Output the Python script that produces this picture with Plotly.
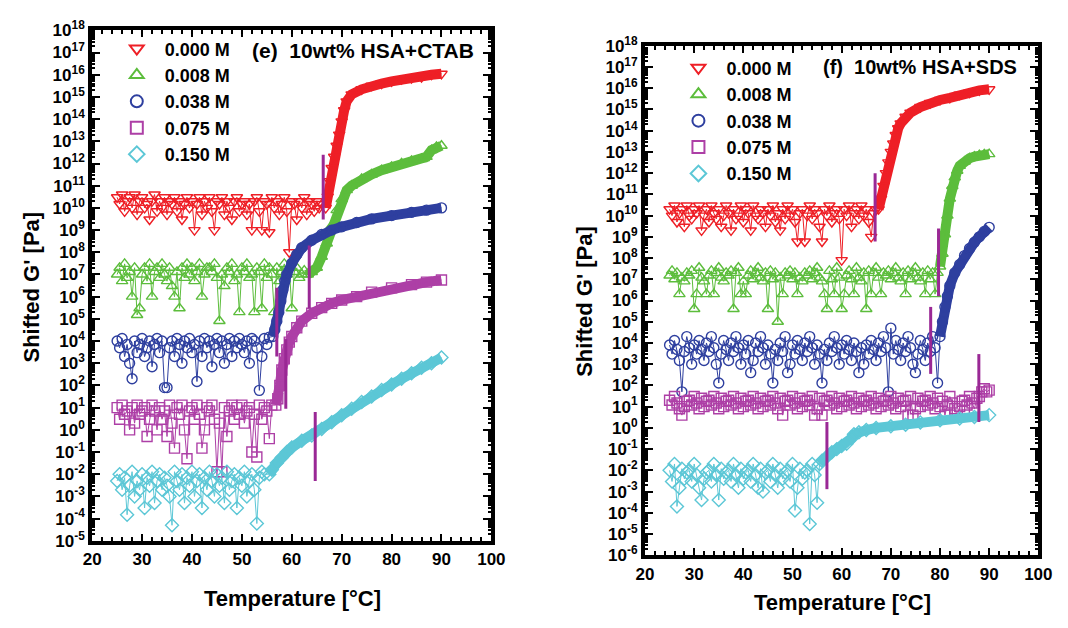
import plotly.graph_objects as go

# ---------------- data ----------------
series_names = ["0.000 M", "0.008 M", "0.038 M", "0.075 M", "0.150 M"]
colors = ["#ee1f26", "#5cbd3c", "#2e3f9f", "#ad3fa6", "#5cc7d6"]
symbols = ["triangle-down-open", "triangle-up-open", "circle-open", "square-open", "diamond-open"]
vline_color = "#9a2895"

# temperature readings of the noisy (pre-transition) part, shared by all series
temp_grid = [25.0, 25.5, 26.0, 26.5, 27.0, 27.5, 28.0, 28.5, 29.0, 29.5, 30.0, 30.5, 31.0, 31.5, 32.0, 32.5,
             33.0, 33.5, 34.0, 34.5, 35.0, 35.5, 36.0, 36.5, 37.0, 37.5, 38.0, 38.5, 39.0, 39.5, 40.0, 40.5,
             41.0, 41.5, 42.0, 42.5, 43.0, 43.5, 44.0, 44.5, 45.0, 45.5, 46.0, 46.5, 47.0, 47.5, 48.0, 48.5,
             49.0, 49.5, 50.0, 50.5, 51.0, 51.5, 52.0, 52.5, 53.0, 53.5, 54.0, 54.5, 55.0, 55.5, 56.0, 56.5,
             57.0, 57.5, 58.0, 58.5, 59.0, 59.5, 60.0, 60.5, 61.0, 61.5, 62.0, 62.5, 63.0, 63.5, 64.0, 64.5,
             65.0, 65.5, 66.0, 66.5, 67.0, 67.5, 68.0, 68.5, 69.0, 69.5, 70.0, 70.5, 71.0, 71.5, 72.0, 72.5,
             73.0, 73.5, 74.0, 74.5, 75.0, 75.5, 76.0, 76.5, 77.0, 77.5, 78.0, 78.5, 79.0, 79.5, 80.0, 80.5,
             81.0, 81.5, 82.0, 82.5, 83.0, 83.5, 84.0, 84.5, 85.0, 85.5, 86.0, 86.5, 87.0, 87.5, 88.0, 88.5,
             89.0, 89.5, 90.0]

# ----- panel (e): 10wt% HSA + CTAB -----
e_red_noise = [3e10, 1.5e10, 4e10, 7e9, 2e10, 3e10, 1e10, 4e10, 5e9, 2e10,
               3e10, 1e10, 1.5e10, 3e9, 2e10, 4e10, 7e9, 2e10, 1e10, 3e10,
               5e9, 2e10, 1.5e10, 3e10, 7e9, 2e10, 3e9, 1.5e10, 3e10, 1e10,
               2e10, 1e9, 1.5e10, 3e10, 5e9, 2e10, 1e10, 3e10, 7e9, 1e9,
               2e10, 1.5e10, 3e10, 5e9, 2e10, 1e10, 3e9, 2e10, 3e10, 7e9,
               1.5e10, 2e10, 5e9, 1.5e10, 1e9, 2e10, 3e10, 7e9, 1e9, 2e10,
               1.5e10, 8e8, 3e10, 1e10, 2e10, 5e9, 1.5e10, 3e10, 7e9, 1e8,
               2e10, 1.5e10, 3e9, 2e10, 1e10, 3e10, 5e9, 2e10, 1.5e10, 7e9,
               2e10, 1e10, 1.5e10]
e_red_rise_t = [66.8, 67.2, 67.6, 68.0, 68.5, 69.0, 69.5, 70.0, 70.5, 71.0, 72.0, 74.0, 76.0, 78.0, 80.0,
                82.0, 84.0, 86.0, 88.0, 90.0]
e_red_rise = [1e10, 3.2e10, 1.6e11, 6.3e11, 2e12, 6.3e12, 2e13, 7.9e13, 2.5e14, 6.3e14, 1.3e15, 2.2e15,
              3.2e15, 4e15, 5e15, 6.3e15, 7.1e15, 7.9e15, 1e16, 1.1e16]

e_green_noise = [1e7, 2e7, 5e6, 3e7, 7e6, 1.3e7, 1e6, 2e7, 1.5e5, 3e5,
                 1e7, 2e7, 5e6, 3e7, 1e6, 1.3e7, 2e7, 7e6, 3e7, 1e7,
                 5e6, 2e7, 3e6, 1e6, 1.3e7, 3e5, 2e7, 7e6, 3e7, 1e7,
                 2e7, 5e6, 1.3e7, 3e7, 1e6, 1e7, 2e7, 2e7, 1.3e7, 3e7,
                 7e6, 8e4, 1e7, 3e6, 2e7, 1.3e7, 3e7, 5e6, 1e7, 2e5,
                 2e7, 1.3e7, 3e7, 7e6, 1e7, 2e5, 2e7, 1.3e7, 3e5, 3e7,
                 7e6, 2e7, 1e7, 2e5, 2e7, 5e6, 1.3e7, 3e7, 1e7, 2e7,
                 3e5, 1.3e7, 2e7, 7e6, 1e7, 1.5e7]
e_green_rise_t = [63.2, 64.0, 65.0, 66.0, 67.0, 68.0, 69.0, 70.0, 71.0, 72.0, 74.0, 76.0, 78.0, 80.0, 82.0,
                  84.0, 86.0, 87.0, 88.0, 89.0, 90.0]
e_green_rise = [1e7, 1.3e7, 2e7, 6.3e7, 2.5e8, 1.6e9, 7.9e9, 2.5e10, 6.3e10, 1e11, 2e11, 3.2e11, 5e11, 7.1e11,
                1e12, 1.3e12, 1.6e12, 2e12, 4e12, 5.6e12, 6.3e12]

e_blue_noise = [1e4, 5e3, 1.3e4, 2e3, 7e3, 1e3, 2e2, 1e4, 3e3, 7e3,
                1.3e4, 2e3, 5e3, 1e4, 7e2, 7e3, 1.3e4, 3e3, 1e4, 8e1,
                8e1, 5e3, 1e4, 2e3, 1.3e4, 7e3, 1e3, 1e4, 5e3, 1.3e4,
                3e3, 7e3, 1.5e2, 1e4, 2e3, 1.3e4, 5e3, 1e4, 7e2, 7e3,
                1.3e4, 3e3, 1e4, 1e3, 7e3, 1.3e4, 2e3, 1e4, 5e3, 1.3e4,
                7e3, 3e3, 1e4, 1e3, 1.3e4, 1e4, 5e3, 6e1, 2e3, 1.3e4,
                7e3, 1.5e4]
e_blue_rise_t = [56.2, 56.6, 57.0, 57.4, 57.8, 58.2, 58.6, 59.0, 60.0, 61.0, 62.0, 64.0, 66.0, 68.0, 70.0,
                 73.0, 76.0, 80.0, 84.0, 87.0, 90.0]
e_blue_rise = [1.6e4, 3.2e4, 7.9e4, 2e5, 6.3e5, 2e6, 5e6, 1e7, 3.2e7, 7.9e7, 1.6e8, 3.5e8, 6.3e8, 1e9, 1.4e9,
               2.2e9, 3.2e9, 4.5e9, 6.3e9, 7.9e9, 1e10]

e_mag_noise = [1e1, 3e0, 1.3e1, 5e0, 7e0, 1e0, 1e1, 2e0, 1.3e1, 5e0,
               7e0, 1e1, 5e-1, 3e0, 1.3e1, 7e0, 1e0, 1e1, 3e0, 7e0,
               5e-1, 1.3e1, 2e0, 1.5e-1, 1e1, 5e0, 1.3e1, 1e0, 5e-2, 7e0,
               1e1, 3e0, 1.3e1, 5e0, 1.5e-1, 1e0, 1e1, 7e0, 1.3e1, 3e0,
               1.3e-2, 2e0, 1.3e-2, 1e1, 5e-1, 7e0, 1.3e1, 3e0, 1e1, 5e0,
               1.3e1, 2e0, 7e0, 1e1, 1e-1, 5e0, 6e-2, 1.3e1, 3e0, 1e1,
               7e0, 4e-1, 1.3e1]
e_mag_rise_t = [56.8, 57.2, 57.6, 58.0, 58.5, 59.0, 59.5, 60.0, 61.0, 62.0, 64.0, 66.0, 68.0, 70.0, 73.0,
                76.0, 80.0, 84.0, 87.0, 90.0]
e_mag_rise = [1.3e1, 2.5e1, 1e2, 5e2, 1.6e3, 4e3, 8.9e3, 1.6e4, 4e4, 7.9e4, 1.8e5, 3.2e5, 5e5, 7.1e5, 1e6,
              1.6e6, 2.5e6, 3.5e6, 4.5e6, 5.6e6]

e_cyan_noise = [5e-3, 1e-2, 2e-3, 7e-3, 1.5e-4, 3e-3, 1.3e-2, 1e-3, 5e-3, 2e-3,
                1e-2, 3e-4, 7e-3, 3e-3, 1.3e-2, 5e-4, 5e-3, 1e-2, 2e-3, 7e-3,
                3e-3, 1e-3, 5e-5, 1.3e-2, 5e-3, 2e-3, 1e-2, 5e-4, 7e-3, 3e-3,
                1.3e-2, 1e-3, 5e-3, 1e-2, 3e-4, 7e-3, 2e-3, 1.3e-2, 5e-3, 1e-3,
                1e-2, 3e-3, 7e-3, 5e-4, 1.3e-2, 2e-3, 5e-3, 1e-2, 3e-4, 7e-3,
                3e-3, 1.3e-2, 1e-3, 5e-3, 1e-2, 2e-3, 6e-5, 7e-3, 1.3e-2, 1e-2]
e_cyan_rise_t = [55.5, 56.0, 57.0, 58.0, 59.0, 60.0, 62.0, 64.0, 66.0, 68.0, 70.0, 72.0, 74.0, 76.0, 78.0,
                 80.0, 82.0, 84.0, 86.0, 88.0, 90.0]
e_cyan_rise = [1e-2, 1.6e-2, 3.2e-2, 5.6e-2, 1e-1, 1.6e-1, 3.2e-1, 5.6e-1, 1.1, 2.2, 4.5, 8.9, 1.8e1, 3.2e1,
               6.3e1, 1.1e2, 2e2, 3.5e2, 6.3e2, 1e3, 1.8e3]

e_vline_t = [66.3, 63.5, 57.0, 58.8, 64.7]
e_vline_lo = [3e9, 3e5, 2e3, 9.0, 5e-3]
e_vline_hi = [2.5e12, 2e8, 2.5e6, 1.2e4, 6.3]

# ----- panel (f): 10wt% HSA + SDS -----
f_red_noise = [2e10, 1e10, 3e10, 5e9, 1.3e10, 2e10, 3e9, 3e10, 1e10, 7e9,
               2e10, 1.3e10, 3e10, 2e9, 1e10, 2e10, 5e9, 3e10, 1.3e10, 7e9,
               2e10, 3e9, 1e10, 3e10, 1.3e10, 2e9, 2e10, 7e9, 1e10, 3e10,
               5e9, 2e10, 1.3e10, 2e9, 3e10, 1e10, 7e9, 2e10, 1.3e10, 3e9,
               2e10, 1e10, 3e10, 5e9, 1.3e10, 2e9, 2e10, 7e9, 3e10, 1e10,
               2e10, 5e9, 6e8, 1.3e10, 2e10, 6e8, 1e10, 3e10, 7e9, 2e10,
               1.3e10, 3e9, 6e8, 2e10, 1e10, 3e10, 5e9, 1.3e10, 2e10, 7e9,
               8e7, 2e10, 1e10, 3e10, 3e9, 1.3e10, 2e10, 7e9, 3e10, 1e10,
               2e10, 5e9, 1e9, 1.3e10, 2e10]
f_red_rise_t = [67.5, 68.0, 68.5, 69.0, 69.5, 70.0, 70.5, 71.0, 71.5, 72.0, 73.0, 74.0, 76.0, 78.0, 80.0,
                82.0, 84.0, 86.0, 88.0, 90.0]
f_red_rise = [2e10, 6.3e10, 2.5e11, 1e12, 3.2e12, 1e13, 2.5e13, 6.3e13, 1.3e14, 2.2e14, 4.5e14, 7.1e14, 1.3e15,
              2e15, 2.8e15, 3.5e15, 5e15, 6.3e15, 7.9e15, 8.9e15]

f_green_noise = [1.5e7, 2.5e7, 1e7, 2e7, 2e6, 1.2e7, 8e6, 2e7,
                 1.5e7, 2.5e7, 4e5, 2e6, 3.5e7, 1.2e7, 8e6, 2e6,
                 1.5e7, 2.5e7, 2e6, 2e7, 3.5e7, 1.2e7, 8e6, 2e7,
                 1.5e7, 2.5e7, 4e5, 2e7, 3.5e7, 2e6, 8e6, 2e6,
                 1.5e7, 2.5e7, 1e7, 2e7, 3.5e7, 1.2e7, 8e6, 2e7,
                 4e5, 2.5e7, 1e7, 2e7, 1e5, 1.2e7, 2e6, 2e7,
                 1.5e7, 2.5e7, 1e7, 2e7, 2e6, 1.2e7, 8e6, 2e7,
                 1.5e7, 2.5e7, 1e7, 2e7, 3.5e7, 1.2e7, 8e6, 2e6,
                 4e5, 2.5e7, 1e7, 2e6, 3.5e7, 1.2e7, 4e5, 2e6,
                 1.5e7, 2.5e7, 1e7, 2e6, 3.5e7, 1.2e7, 8e6, 2e7,
                 4e5, 2.5e7, 2e6, 2e7, 3.5e7, 1.2e7, 2e6, 2e7,
                 1.5e7, 2.5e7, 1e7, 2e7, 3.5e7, 1.2e7, 8e6, 2e7,
                 2e6, 2.5e7, 1e7, 2e7, 3.5e7, 1.2e7, 8e6, 2e7,
                 2e6, 2.5e7, 1e7, 2e7, 2e6, 2e7]
f_green_rise_t = [80.0, 80.5, 81.0, 81.5, 82.0, 82.5, 83.0, 83.5, 84.0, 85.0, 86.0, 87.0, 88.0, 89.0, 90.0]
f_green_rise = [4e7, 1.6e8, 1.3e9, 1e10, 6.3e10, 2.5e11, 6.3e11, 1.3e12, 2.2e12, 3.5e12, 5e12, 6e12, 7.1e12,
                7.6e12, 7.9e12]

f_blue_noise = [8e3, 3e3, 1.3e4, 5e3, 1.5e3, 5e1, 4e3, 2e4, 6e3, 1e3,
                8e3, 3e3, 1.3e4, 5e3, 1.5e3, 1e4, 4e3, 2e4, 6e3, 1e3,
                1.3e2, 3e3, 1.3e4, 5e3, 1.5e3, 1e4, 4e3, 2e4, 6e3, 1e3,
                8e3, 3e3, 1.3e4, 4e2, 1.5e3, 1e4, 4e3, 2e4, 6e3, 1e3,
                8e3, 3e3, 1.3e2, 5e3, 1.5e3, 1e4, 4e3, 2e4, 4e2, 1e3,
                8e3, 3e3, 1.3e4, 5e3, 1.5e3, 1e4, 4e3, 2e4, 6e3, 1e3,
                8e3, 3e3, 1.3e2, 5e3, 1.5e3, 1e4, 4e3, 2e4, 6e3, 1e3,
                8e3, 3e3, 1.3e4, 5e3, 1.5e3, 1e4, 4e3, 4e2, 6e3, 1e3,
                8e3, 3e3, 1.3e4, 5e3, 1.5e3, 1e4, 4e3, 2e4, 6e3, 5e1,
                5e4, 3e3, 1.3e4, 5e3, 1.5e3, 1e4, 4e3, 2e4, 6e3, 1e3,
                4e2, 3e3, 1.3e4, 5e3, 1.5e3, 1e4, 4e3, 2e4, 6e3, 1.3e2]
f_blue_rise_t = [80.0, 80.5, 81.0, 81.5, 82.0, 83.0, 84.0, 85.0, 86.0, 87.0, 88.0, 89.0, 90.0]
f_blue_rise = [2e4, 1e5, 5e5, 1.6e6, 5e6, 2e7, 5e7, 1.3e8, 2.8e8, 5.6e8, 1e9, 1.8e9, 2.8e9]

f_mag_noise = [2e1, 1.2e1, 3e1, 1.5e1, 8e0, 4e0, 1e1, 1.8e1,
               2e1, 1.2e1, 3e1, 1.5e1, 8e0, 2.5e1, 1e1, 1.8e1,
               2e1, 1.2e1, 3e1, 1.5e1, 8e0, 2.5e1, 1e1, 1.8e1,
               2e1, 1.2e1, 3e1, 1.5e1, 8e0, 2.5e1, 1e1, 1.8e1,
               2e1, 1.2e1, 3e1, 1.5e1, 8e0, 2.5e1, 1e1, 1.8e1,
               2e1, 1.2e1, 3e1, 1.5e1, 8e0, 2.5e1, 4e0, 1.8e1,
               2e1, 1.2e1, 3e1, 1.5e1, 8e0, 2.5e1, 1e1, 1.8e1,
               2e1, 1.2e1, 3e1, 4e0, 8e0, 2.5e1, 4e0, 1.8e1,
               2e1, 1.2e1, 3e1, 1.5e1, 8e0, 2.5e1, 1e1, 1.8e1,
               2e1, 1.2e1, 3e1, 1.5e1, 8e0, 2.5e1, 1e1, 1.8e1,
               2e1, 1.2e1, 3e1, 1.5e1, 8e0, 2.5e1, 1e1, 1.8e1,
               2e1, 1.2e1, 3e1, 1.5e1, 8e0, 2.5e1, 1e1, 1.8e1,
               2e1, 4e0, 3e1, 4e0, 8e0, 2.5e1, 1e1, 1.8e1,
               2e1, 1.2e1, 3e1, 1.5e1, 8e0, 2.5e1, 1e1, 1.8e1,
               4e0, 1.2e1, 3e1, 1.5e1, 8e0, 4e0, 1e1, 1.8e1,
               2e1, 1.2e1, 3e1, 1.5e1, 8e0, 2.5e1,
               3e1, 5e1, 7e1, 5e1, 6e1]

f_cyan_noise = [1e-2, 3e-3, 2e-2, 2e-4, 1.5e-3, 1.2e-2, 4e-3, 8e-3,
                1e-2, 3e-3, 2e-2, 6e-3, 1.5e-3, 4e-4, 4e-3, 8e-3,
                1e-2, 3e-3, 2e-2, 6e-3, 4e-4, 1.2e-2, 4e-3, 8e-3,
                1e-2, 3e-3, 2e-2, 6e-3, 1.5e-3, 1.2e-2, 4e-3, 8e-3,
                1e-2, 3e-3, 2e-2, 6e-3, 1.5e-3, 1.2e-2, 1e-3, 8e-3,
                1e-2, 3e-3, 2e-2, 6e-3, 1.5e-3, 1.2e-2, 4e-3, 8e-3,
                1e-2, 3e-3, 2e-2, 1.3e-4, 1.5e-3, 1.2e-2, 4e-3, 8e-3,
                1e-2, 3e-5, 2e-2, 6e-3, 3e-4]
f_cyan_rise_t = [55.5, 56.0, 57.0, 58.0, 59.0, 60.0, 61.0, 62.0, 62.5, 63.5, 65.0, 67.0, 70.0, 73.0, 76.0,
                 80.0, 84.0, 87.0, 90.0]
f_cyan_rise = [2e-2, 2.8e-2, 4.5e-2, 7.1e-2, 1e-1, 1.4e-1, 1.8e-1, 3.2e-1, 5e-1, 6.3e-1, 7.9e-1, 1.0, 1.2,
               1.4, 1.8, 2.3, 2.8, 3.3, 4.0]

f_vline_t = [66.8, 79.7, 78.1, 87.9, 57.0]
f_vline_lo = [6e8, 1.6e6, 3.5e2, 1.9, 1.3e-3]
f_vline_hi = [1e12, 2.5e9, 5e5, 3e3, 1.9]

panel_e = {
    "noise": [e_red_noise, e_green_noise, e_blue_noise, e_mag_noise, e_cyan_noise],
    "rise_t": [e_red_rise_t, e_green_rise_t, e_blue_rise_t, e_mag_rise_t, e_cyan_rise_t],
    "rise": [e_red_rise, e_green_rise, e_blue_rise, e_mag_rise, e_cyan_rise],
    "vt": e_vline_t, "vlo": e_vline_lo, "vhi": e_vline_hi,
}
panel_f = {
    "noise": [f_red_noise, f_green_noise, f_blue_noise, f_mag_noise, f_cyan_noise],
    "rise_t": [f_red_rise_t, f_green_rise_t, f_blue_rise_t, [], f_cyan_rise_t],
    "rise": [f_red_rise, f_green_rise, f_blue_rise, [], f_cyan_rise],
    "vt": f_vline_t, "vlo": f_vline_lo, "vhi": f_vline_hi,
}

# ---------------- figure ----------------
FONT = "Liberation Sans, Arial, sans-serif"
fig = go.Figure()


def add_panel(p, xa, ya, legend_name):
    for i in range(5):
        nx = temp_grid[:len(p["noise"][i])]
        xs = list(nx) + list(p["rise_t"][i])
        ys = list(p["noise"][i]) + list(p["rise"][i])
        if p["rise_t"][i]:
            # the dense overlapping markers of the transition form a thick band
            fig.add_trace(go.Scatter(x=p["rise_t"][i], y=p["rise"][i], mode="lines",
                                     line=dict(color=colors[i], width=10),
                                     xaxis=xa, yaxis=ya, showlegend=False, hoverinfo="skip"))
        fig.add_trace(go.Scatter(x=xs, y=ys, mode="lines+markers",
                                 line=dict(color=colors[i], width=1),
                                 marker=dict(symbol=symbols[i], size=10, color=colors[i],
                                             line=dict(width=1.4, color=colors[i])),
                                 xaxis=xa, yaxis=ya, showlegend=False, name=series_names[i]))
    vx, vy = [], []
    for t, lo, hi in zip(p["vt"], p["vlo"], p["vhi"]):
        vx += [t, t, None]
        vy += [lo, hi, None]
    fig.add_trace(go.Scatter(x=vx, y=vy, mode="lines", line=dict(color=vline_color, width=3),
                             xaxis=xa, yaxis=ya, showlegend=False, hoverinfo="skip"))
    for i in range(5):
        fig.add_trace(go.Scatter(x=[None], y=[None], mode="markers", name=series_names[i],
                                 marker=dict(symbol=symbols[i], size=10, color=colors[i],
                                             line=dict(width=1.6, color=colors[i])),
                                 xaxis=xa, yaxis=ya, legend=legend_name))


add_panel(panel_e, "x", "y", "legend")
add_panel(panel_f, "x2", "y2", "legend2")


def ylog_axis(lo, hi):
    vals = [10.0 ** k for k in range(lo, hi + 1)]
    text = ["10<sup>%d</sup>" % k for k in range(lo, hi + 1)]
    return vals, text


ev, et = ylog_axis(-5, 18)
fv, ft = ylog_axis(-6, 18)

axis_common = dict(showline=True, linewidth=4, linecolor="black", mirror="allticks",
                   ticks="inside", tickcolor="black", showgrid=False, zeroline=False,
                   tickfont=dict(family=FONT, size=17, color="black", weight="bold"))

W, H = 1068, 628
legend_font = dict(family=FONT, size=18, color="black", weight="bold")
fig.update_layout(
    xaxis=dict(domain=[85 / W, 493 / W], range=[20, 100], tickmode="linear", tick0=20, dtick=10,
               ticklen=7, tickwidth=1.5,
               minor=dict(ticks="inside", dtick=2, ticklen=4, tickcolor="black"), anchor="y", **axis_common),
    yaxis=dict(domain=[1 - 548 / H, 1 - 19 / H], type="log", range=[-5, 18], tickmode="array",
               tickvals=ev, ticktext=et, ticklen=8, tickwidth=1.5,
               minor=dict(ticks="inside", ticklen=3, tickcolor="black", dtick="D1"), anchor="x", **axis_common),
    xaxis2=dict(domain=[650 / W, 1052 / W], range=[20, 100], tickmode="linear", tick0=20, dtick=10,
                ticklen=7, tickwidth=1.5,
                minor=dict(ticks="inside", dtick=2, ticklen=4, tickcolor="black"), anchor="y2", **axis_common),
    yaxis2=dict(domain=[1 - 563 / H, 1 - 35 / H], type="log", range=[-6, 18], tickmode="array",
                tickvals=fv, ticktext=ft, ticklen=8, tickwidth=1.5,
                minor=dict(ticks="inside", ticklen=3, tickcolor="black", dtick="D1"), anchor="x2", **axis_common),
    legend=dict(x=102 / W, y=1 - 19 / H, xanchor="left", yanchor="top", bgcolor="rgba(0,0,0,0)",
                font=legend_font, tracegroupgap=0, itemsizing="constant", itemwidth=46),
    legend2=dict(x=676 / W, y=1 - 39 / H, xanchor="left", yanchor="top", bgcolor="rgba(0,0,0,0)",
                 font=legend_font, tracegroupgap=0, itemsizing="constant", itemwidth=46),
    margin=dict(l=0, r=0, t=0, b=0),
    width=W, height=H,
    plot_bgcolor="white", paper_bgcolor="white",
    font=dict(family=FONT, color="black"),
    annotations=[
        dict(text="<b>(e)  10wt% HSA+CTAB</b>", x=362 / W, y=1 - 40 / H, xref="paper", yref="paper",
             xanchor="center", yanchor="middle", showarrow=False,
             font=dict(family=FONT, size=21, color="black")),
        dict(text="<b>(f)  10wt% HSA+SDS</b>", x=931 / W, y=1 - 57 / H, xref="paper", yref="paper",
             xanchor="center", yanchor="middle", showarrow=False,
             font=dict(family=FONT, size=20, color="black")),
        dict(text="<b>Shifted G' [Pa]</b>", x=22 / W, y=1 - 285 / H, xref="paper", yref="paper",
             xanchor="center", yanchor="middle", textangle=-90, showarrow=False,
             font=dict(family=FONT, size=22, color="black")),
        dict(text="<b>Shifted G' [Pa]</b>", x=588 / W, y=1 - 300 / H, xref="paper", yref="paper",
             xanchor="center", yanchor="middle", textangle=-90, showarrow=False,
             font=dict(family=FONT, size=22, color="black")),
        dict(text="<b>Temperature [°C]</b>", x=290 / W, y=1 - 608 / H, xref="paper", yref="paper",
             xanchor="center", yanchor="middle", showarrow=False,
             font=dict(family=FONT, size=22, color="black")),
        dict(text="<b>Temperature [°C]</b>", x=852 / W, y=1 - 612 / H, xref="paper", yref="paper",
             xanchor="center", yanchor="middle", showarrow=False,
             font=dict(family=FONT, size=22, color="black")),
    ],
)

fig.write_html("out.html")
